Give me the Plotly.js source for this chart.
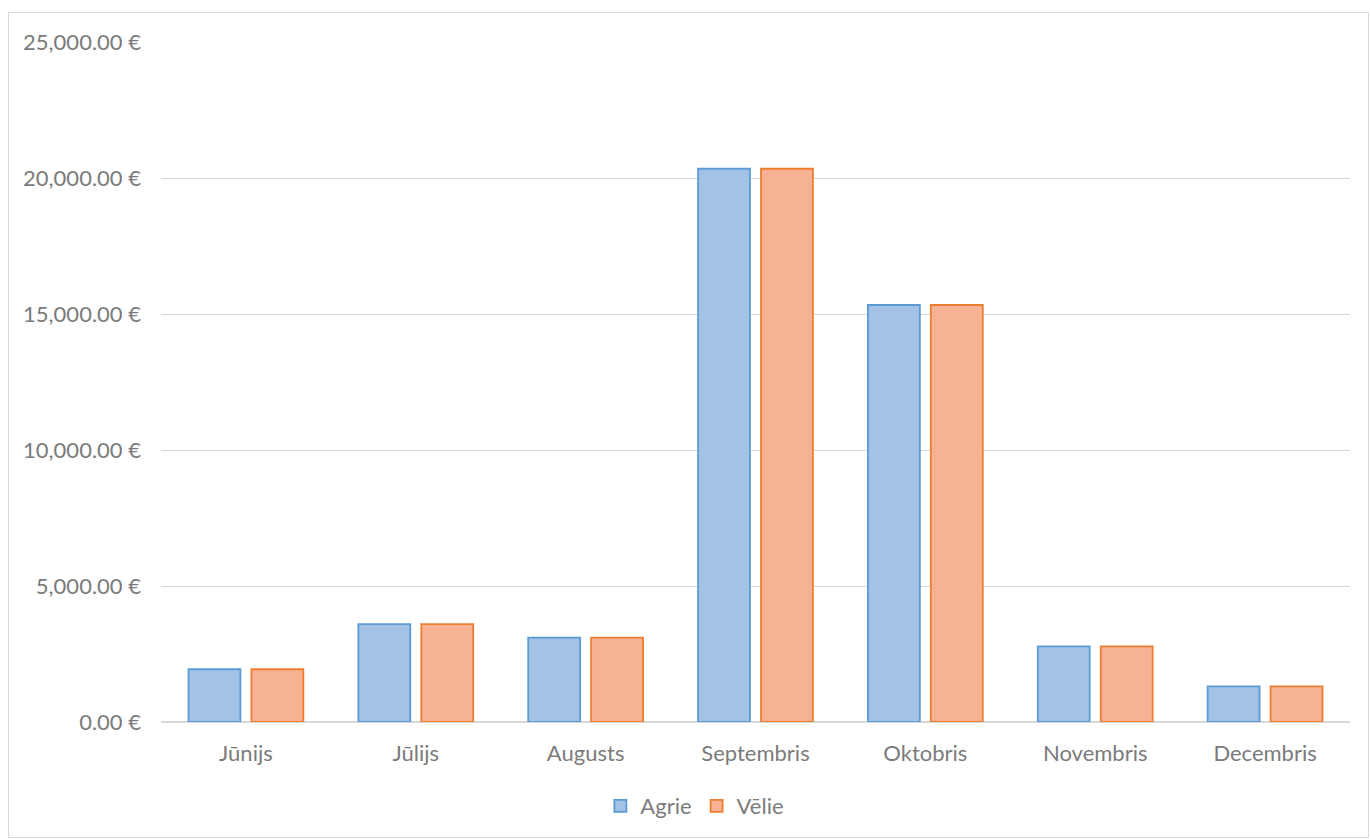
<!DOCTYPE html>
<html>
<head>
<meta charset="utf-8">
<script src="https://cdn.plot.ly/plotly-3.0.1.min.js"></script>
<style>
html,body{margin:0;padding:0;background:#fff;}
#chart{width:1370px;height:839px;}
#frame{position:absolute;left:8px;top:12px;width:1359px;height:824px;border:1px solid #d9d9d9;pointer-events:none;}
</style>
</head>
<body>
<div id="chart"></div>
<div id="frame"></div>
<script>
const months = ["Jūnijs","Jūlijs","Augusts","Septembris","Oktobris","Novembris","Decembris"];
const agrie = [1940, 3600, 3100, 20340, 15330, 2780, 1310];
const velie = [1940, 3600, 3100, 20340, 15330, 2780, 1310];
const yTicks = [0, 5000, 10000, 15000, 20000, 25000];
const yTickLabels = ["0.00 €","5,000.00 €","10,000.00 €","15,000.00 €","20,000.00 €","25,000.00 €"];

const fontFam = "Lato, 'Liberation Sans', sans-serif";
const txt = '#7b7b7b';
const traces = [
  {type:'bar', name:'Agrie', x:months, y:agrie,
   marker:{color:'#a4c1e6', line:{color:'#5b9bd5', width:1.8}}},
  {type:'bar', name:'Vēlie', x:months, y:velie,
   marker:{color:'#f6b292', line:{color:'#ed7d31', width:1.8}}}
];
const layout = {
  width:1370, height:839,
  margin:{l:161, r:20, t:42, b:117},
  paper_bgcolor:'#fff', plot_bgcolor:'#fff',
  font:{family:fontFam, size:22, color:txt},
  barmode:'group', bargap:0.259, bargroupgap:0.175,
  showlegend:true,
  legend:{orientation:'h', x:0.449, xanchor:'center', y:-0.1235, yanchor:'middle',
          font:{size:22, color:txt}, itemwidth:30},
  xaxis:{showgrid:false, showline:false, zeroline:false, ticks:'',
         tickfont:{size:22, color:txt}, ticklabelstandoff:16},
  yaxis:{range:[0,25000], tickmode:'array', tickvals:yTicks, ticktext:yTickLabels,
         gridcolor:'#d9d9d9', gridwidth:1, zeroline:true, zerolinecolor:'#d9d9d9', zerolinewidth:1.5,
         showline:false, ticks:'', tickfont:{size:22, color:txt}, ticklabelstandoff:19}
};
Plotly.newPlot('chart', traces, layout, {displayModeBar:false, staticPlot:true});
</script>
</body>
</html>
